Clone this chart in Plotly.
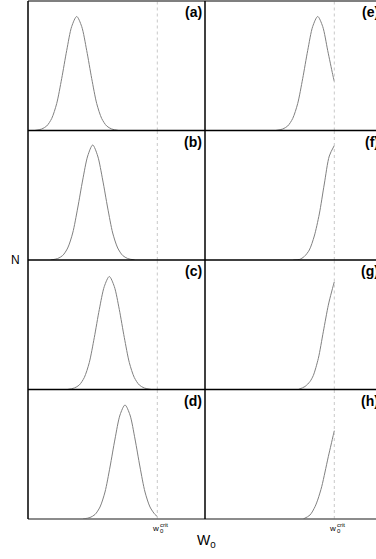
import plotly.graph_objects as go
from plotly.subplots import make_subplots

# ---- data (W0 in arbitrary units, N in arbitrary units) ----
W_CRIT = 129.3
X_MAX_LEFT = 177
X_MAX_RIGHT = 171
Y_MAX = 129.5

panel_labels = ["(a)", "(b)", "(c)", "(d)", "(e)", "(f)", "(g)", "(h)"]

a_w = [6.7, 13.7, 18.7, 23.7, 28.7, 33.7, 38.7, 43.7, 48.7, 53.7, 58.7, 63.7, 68.7, 73.7, 78.7, 83.7, 90.7]
a_n = [0, 1.5, 4.5, 12, 27, 52, 80, 104, 114, 104, 80, 52, 27, 12, 4.5, 1.5, 0]

b_w = [22.7, 29.7, 34.7, 39.7, 44.7, 49.7, 54.7, 59.7, 64.7, 69.7, 74.7, 79.7, 84.7, 89.7, 94.7, 99.7, 106.7]
b_n = [0, 1.5, 4.5, 12, 27, 52, 80, 104, 115, 104, 80, 52, 27, 12, 4.5, 1.5, 0]

c_w = [39.3, 46.3, 51.3, 56.3, 61.3, 66.3, 71.3, 76.3, 81.3, 86.3, 91.3, 96.3, 101.3, 106.3, 111.3, 116.3, 123.3]
c_n = [0, 1.5, 4.5, 12, 27, 52, 80, 103, 113, 103, 80, 52, 27, 12, 4.5, 1.5, 0]

d_w = [55, 62, 67, 72, 77, 82, 87, 92, 97, 102, 107, 112, 117, 122, 127, 129.3]
d_n = [0, 1.5, 4.5, 12, 27, 52, 80, 104, 114, 104, 80, 52, 27, 12, 4.5, 2.5]

e_w = [70.7, 77.7, 82.7, 87.7, 92.7, 97.7, 102.7, 107.7, 112.7, 117.7, 122.7, 127.7, 129.3]
e_n = [0, 1.5, 4.5, 12, 27, 52, 80, 104, 114, 104, 80, 56, 49]

f_w = [88.3, 94.3, 99.3, 104.3, 109.3, 114.3, 119.3, 124.3, 129.3]
f_n = [0, 0.5, 3.5, 10, 24, 46, 76, 104, 114.5]

g_w = [93.3, 100, 105, 108.3, 113.3, 118.3, 123.3, 126.3, 129.3]
g_n = [0, 3, 8, 14, 31, 57.7, 84.3, 96.5, 107.7]

h_w = [98.3, 105, 110, 113, 116.7, 120, 123.3, 126, 129.3]
h_n = [0, 4, 12.3, 20, 32.3, 47, 62.3, 74, 88.3]

curves = [(a_w, a_n), (b_w, b_n), (c_w, c_n), (d_w, d_n),
          (e_w, e_n), (f_w, f_n), (g_w, g_n), (h_w, h_n)]

# ---- figure ----
W, H = 376, 559
ML, MR, MT, MB = 28, 0, 1, 40
fig = make_subplots(rows=4, cols=2, horizontal_spacing=0, vertical_spacing=0,
                    column_widths=[X_MAX_LEFT, X_MAX_RIGHT])

FONT = "Liberation Sans, Arial, sans-serif"
CURVE = "#808080"

for i, (xw, yn) in enumerate(curves):
    col = 1 if i < 4 else 2
    row = i % 4 + 1
    fig.add_trace(go.Scatter(x=xw, y=yn, mode="lines",
                             line=dict(color=CURVE, width=1, shape="spline", smoothing=0.8),
                             hoverinfo="skip", showlegend=False), row=row, col=col)
    fig.add_vline(x=W_CRIT, row=row, col=col,
                  line=dict(color="#c8c8c8", width=1, dash="dot"))

for r in range(1, 5):
    for c in (1, 2):
        fig.update_xaxes(range=[0, X_MAX_LEFT if c == 1 else X_MAX_RIGHT], row=r, col=c)
        fig.update_yaxes(range=[0, Y_MAX], row=r, col=c)
fig.update_xaxes(showgrid=False, zeroline=False, showticklabels=False, ticks="", showline=False)
fig.update_yaxes(showgrid=False, zeroline=False, showticklabels=False, ticks="", showline=False)

pw = W - ML - MR
ph = H - MT - MB
def px_x(px):
    return (px - ML) / pw
def px_y(py):
    return (H - MB - py) / ph

split = X_MAX_LEFT / (X_MAX_LEFT + X_MAX_RIGHT)
shapes = []
for k in (1, 2, 3):
    yy = 1 - k * 0.25
    shapes.append(dict(type="line", xref="paper", yref="paper", x0=0, x1=1, y0=yy, y1=yy,
                       line=dict(color="#000000", width=1.5)))
shapes.append(dict(type="line", xref="paper", yref="paper", x0=0, x1=1, y0=1, y1=1,
                   line=dict(color="#555555", width=1.5)))
shapes.append(dict(type="line", xref="paper", yref="paper", x0=0, x1=1, y0=0, y1=0,
                   line=dict(color="#666666", width=1.5)))
shapes.append(dict(type="line", xref="paper", yref="paper", x0=0, x1=0, y0=0, y1=1,
                   line=dict(color="#000000", width=1.5)))
shapes.append(dict(type="line", xref="paper", yref="paper", x0=split, x1=split, y0=0, y1=1,
                   line=dict(color="#000000", width=1.5)))
for s in shapes:
    fig.add_shape(**s)

ann = []
for i, lab in enumerate(panel_labels):
    col = 1 if i < 4 else 2
    row = i % 4
    xr = px_x(204) if col == 1 else px_x(381)
    ytop = 1 - row * 0.25
    ann.append(dict(text="<b>" + lab + "</b>", xref="paper", yref="paper", x=xr, y=ytop,
                    xanchor="right", yanchor="top", yshift=-1, showarrow=False,
                    font=dict(family=FONT, size=14, color="#000000")))

ann.append(dict(text="N", xref="paper", yref="paper", x=px_x(15.5), y=px_y(260),
                xanchor="center", yanchor="middle", showarrow=False,
                font=dict(family=FONT, size=12, color="#000000")))
ann.append(dict(text="W<sub>0</sub>", xref="paper", yref="paper", x=px_x(206), y=px_y(541),
                xanchor="center", yanchor="middle", showarrow=False,
                font=dict(family=FONT, size=14, color="#000000")))
for xr in ("x7", "x8"):
    ann.append(dict(text="w", xref=xr, yref="paper", x=W_CRIT, y=0, xshift=-2,
                    yanchor="top", xanchor="center", yshift=-3, showarrow=False,
                    font=dict(family=FONT, size=8, color="#000000")))
    ann.append(dict(text="crit", xref=xr, yref="paper", x=W_CRIT, y=0, xshift=0.5,
                    yanchor="top", xanchor="left", yshift=-1, showarrow=False,
                    font=dict(family=FONT, size=6, color="#000000")))
    ann.append(dict(text="0", xref=xr, yref="paper", x=W_CRIT, y=0, xshift=0.5,
                    yanchor="top", xanchor="left", yshift=-7, showarrow=False,
                    font=dict(family=FONT, size=6, color="#000000")))
fig.update_layout(annotations=ann)

fig.update_layout(width=W, height=H, margin=dict(l=ML, r=MR, t=MT, b=MB, pad=0),
                  paper_bgcolor="white", plot_bgcolor="white", showlegend=False,
                  font=dict(family=FONT))

fig.write_html("out.html", config={"displayModeBar": False},
               post_script="document.body.style.margin='0';document.body.style.overflow='hidden';")
